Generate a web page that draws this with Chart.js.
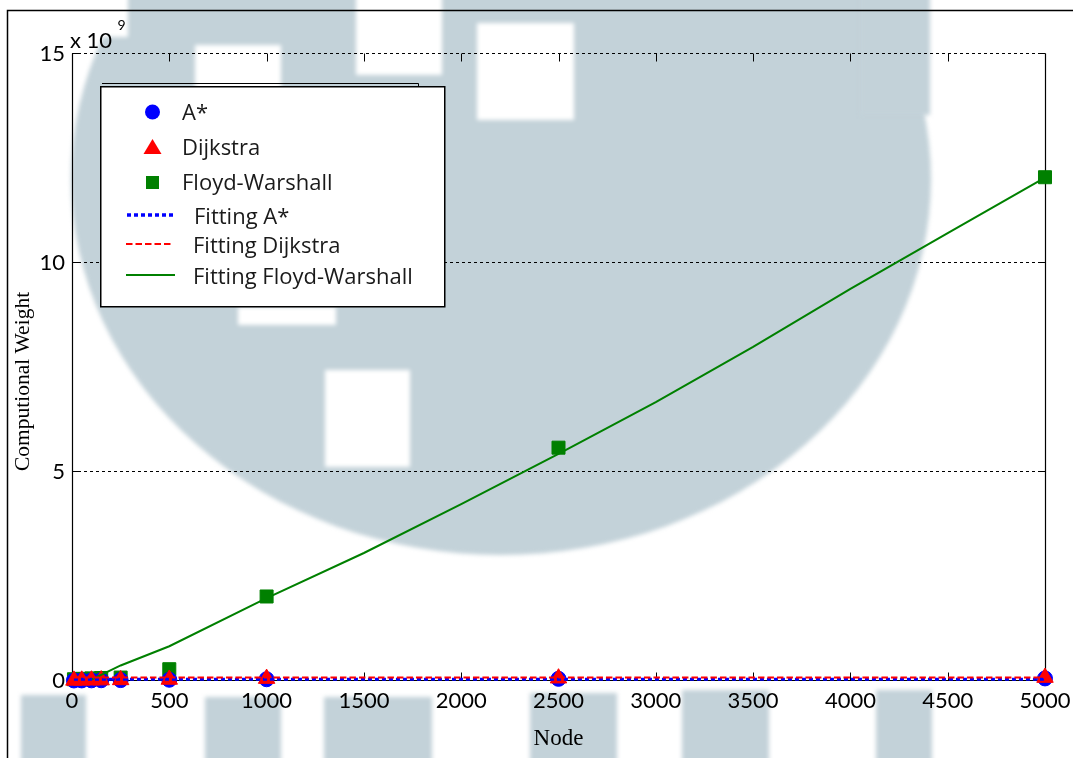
<!DOCTYPE html>
<html>
<head>
<meta charset="utf-8">
<script src="https://cdn.jsdelivr.net/npm/chart.js@4.4.0/dist/chart.umd.min.js"></script>
<style>
  html, body { margin: 0; padding: 0; background: #fff; }
  #wrap { width: 1073px; height: 758px; }
  canvas { display: block; }
</style>
</head>
<body>
<div id="wrap"><canvas id="chart" width="1073" height="758"></canvas></div>
<script>
// Graph sizes (number of nodes)
const nodes = [10, 50, 100, 150, 250, 500, 1000, 2500, 5000];

// Measured computational weight, in units of 10^9
const aStar         = [0.001, 0.002, 0.004, 0.006, 0.010, 0.018, 0.030, 0.040, 0.050];
const dijkstra      = [0.002, 0.004, 0.006, 0.009, 0.014, 0.025, 0.045, 0.055, 0.070];
const floydWarshall = [0.03, 0.04, 0.05, 0.06, 0.07, 0.27, 2.01, 5.57, 12.04];

// Fitted curves, in units of 10^9
const fitFlatNodes     = [10, 5000];
const fitAStar         = [0.03, 0.03];
const fitDijkstra      = [0.07, 0.07];
const fitFwNodes       = [100, 250, 500, 1000, 1500, 2000, 2500, 3000, 3500, 4000, 4500, 5000];
const fitFloydWarshall = [0.02, 0.36, 0.82, 1.97, 3.05, 4.22, 5.42, 6.66, 7.98, 9.37, 10.70, 12.03];

// Axis ticks
const xTicks = [0, 500, 1000, 1500, 2000, 2500, 3000, 3500, 4000, 4500, 5000];
const yTicks = [0, 5, 10, 15];

// Legend entries
const legendLabels = ['A*', 'Dijkstra', 'Floyd-Warshall', 'Fitting A*', 'Fitting Dijkstra', 'Fitting Floyd-Warshall'];

const BLUE = '#0000ff', RED = '#ff0000', GREEN = '#008000';
const pts = (xs, ys) => xs.map((x, i) => ({ x: x, y: ys[i] }));

// Faint logo drawn behind the whole figure
const backdrop = {
  id: 'backdrop',
  beforeDraw(chart) {
    const ctx = chart.ctx;
    ctx.save();
    ctx.fillStyle = '#ffffff';
    ctx.fillRect(0, 0, chart.width, chart.height);
    ctx.filter = 'blur(2px)';
    ctx.fillStyle = '#c3d2d9';
    ctx.beginPath();
    ctx.ellipse(501, 179, 430, 376, 0, 0, Math.PI * 2);
    ctx.fill();
    [[860, -5, 70, 120], [21, 695, 65, 70], [205, 697, 76, 70], [324, 697, 108, 70],
     [530, 693, 87, 70], [682, 690, 87, 75], [876, 690, 56, 75]].forEach(r => ctx.fillRect(r[0], r[1], r[2], r[3]));
    ctx.fillStyle = '#ffffff';
    [[356, -5, 86, 80], [477, 23, 97, 97], [195, 45, 86, 45],
     [238, 307, 98, 18], [325, 370, 85, 97], [0, -5, 128, 42]].forEach(r => ctx.fillRect(r[0], r[1], r[2], r[3]));
    ctx.restore();
  }
};

// Dashed grid, box axes and inward tick marks
const axesBox = {
  id: 'axesBox',
  beforeDatasetsDraw(chart) {
    const ctx = chart.ctx;
    const xs = chart.scales.x, ys = chart.scales.y;
    const { left, right, top, bottom } = chart.chartArea;
    ctx.save();
    ctx.strokeStyle = '#000';
    ctx.lineWidth = 1;
    ctx.setLineDash([3, 3]);
    yTicks.forEach(v => {
      if (v === 0) return;
      const y = Math.floor(ys.getPixelForValue(v)) + 0.5;
      ctx.beginPath(); ctx.moveTo(left, y); ctx.lineTo(right, y); ctx.stroke();
    });
    ctx.setLineDash([]);
    ctx.lineWidth = 1.2;
    ctx.beginPath();
    ctx.moveTo(left + 0.5, top); ctx.lineTo(left + 0.5, bottom);
    ctx.moveTo(right + 0.5, top); ctx.lineTo(right + 0.5, bottom);
    ctx.moveTo(left, bottom); ctx.lineTo(right, bottom);
    ctx.stroke();
    ctx.lineWidth = 1;
    ctx.beginPath();
    xTicks.forEach(v => {
      const x = Math.round(xs.getPixelForValue(v)) + 0.5;
      ctx.moveTo(x, top); ctx.lineTo(x, top + 8);
      ctx.moveTo(x, bottom); ctx.lineTo(x, bottom - 8);
    });
    yTicks.forEach(v => {
      const y = Math.floor(ys.getPixelForValue(v)) + 0.5;
      ctx.moveTo(left, y); ctx.lineTo(left + 6, y);
      ctx.moveTo(right, y); ctx.lineTo(right - 6, y);
    });
    ctx.stroke();
    ctx.restore();
  }
};

// Axis title, exponent label, legend box and outer frame
const overlay = {
  id: 'overlay',
  afterDraw(chart) {
    const ctx = chart.ctx;
    ctx.save();
    // outer frame
    ctx.strokeStyle = '#000';
    ctx.lineWidth = 1.5;
    ctx.beginPath();
    ctx.moveTo(7.5, 758); ctx.lineTo(7.5, 10.5); ctx.lineTo(1073, 10.5);
    ctx.stroke();

    // vertical axis title
    ctx.save();
    ctx.translate(23, 381.5);
    ctx.rotate(-Math.PI / 2);
    ctx.fillStyle = '#000';
    ctx.textAlign = 'center';
    ctx.textBaseline = 'middle';
    ctx.font = '21.5px "Liberation Serif"';
    ctx.fillText('Computional Weight', 0, 0);
    ctx.restore();

    // axis multiplier
    ctx.fillStyle = '#000';
    ctx.textBaseline = 'alphabetic';
    ctx.textAlign = 'left';
    ctx.font = '22px Lato';
    ctx.fillText('x 10', 70, 47.5);
    ctx.font = '14px Lato';
    ctx.fillText('9', 117.5, 29.5);

    // legend
    ctx.lineWidth = 1;
    ctx.beginPath();
    ctx.moveTo(102, 83.5); ctx.lineTo(418.5, 83.5); ctx.lineTo(418.5, 86);
    ctx.stroke();
    ctx.fillStyle = '#ffffff';
    ctx.fillRect(100, 86, 345, 221);
    ctx.lineWidth = 1.5;
    ctx.strokeRect(100.75, 86.75, 344, 220);

    // markers
    ctx.fillStyle = BLUE;
    ctx.beginPath(); ctx.arc(152.5, 112, 7.5, 0, Math.PI * 2); ctx.fill();
    ctx.fillStyle = RED;
    ctx.beginPath(); ctx.moveTo(152.5, 139); ctx.lineTo(161.5, 154); ctx.lineTo(143.5, 154); ctx.closePath(); ctx.fill();
    ctx.fillStyle = GREEN;
    ctx.fillRect(146, 176, 13, 13);

    // line samples
    ctx.lineWidth = 3.5; ctx.strokeStyle = BLUE; ctx.setLineDash([4, 3]);
    ctx.beginPath(); ctx.moveTo(127, 215); ctx.lineTo(173, 215); ctx.stroke();
    ctx.lineWidth = 2; ctx.strokeStyle = RED; ctx.setLineDash([6.5, 3]);
    ctx.beginPath(); ctx.moveTo(126, 244); ctx.lineTo(173, 244); ctx.stroke();
    ctx.setLineDash([]); ctx.strokeStyle = GREEN;
    ctx.beginPath(); ctx.moveTo(126, 275); ctx.lineTo(175, 275); ctx.stroke();

    ctx.fillStyle = '#1a1a1a';
    ctx.font = '22px "Open Sans"';
    const rows = [[182, 120], [182, 155], [182, 190], [194, 224], [193, 253], [193, 284]];
    legendLabels.forEach((t, i) => ctx.fillText(t, rows[i][0], rows[i][1]));
    ctx.restore();
  }
};

new Chart(document.getElementById('chart'), {
  type: 'scatter',
  data: {
    datasets: [
      { label: legendLabels[0], data: pts(nodes, aStar), pointStyle: 'circle', pointRadius: 7.5,
        backgroundColor: BLUE, borderColor: BLUE, showLine: false, clip: false, order: 5 },
      { label: legendLabels[1], data: pts(nodes, dijkstra), pointStyle: 'triangle', pointRadius: 9.5,
        backgroundColor: RED, borderColor: RED, showLine: false, clip: false, order: 4 },
      { label: legendLabels[2], data: pts(nodes, floydWarshall), pointStyle: 'rect', pointRadius: 9.2,
        backgroundColor: GREEN, borderColor: GREEN, showLine: false, clip: false, order: 6 },
      { label: legendLabels[3], data: pts(fitFlatNodes, fitAStar), showLine: true, pointRadius: 0,
        borderColor: BLUE, borderWidth: 3, borderDash: [4, 3], clip: false, order: 2 },
      { label: legendLabels[4], data: pts(fitFlatNodes, fitDijkstra), showLine: true, pointRadius: 0,
        borderColor: RED, borderWidth: 2, borderDash: [6.5, 3], clip: false, order: 1 },
      { label: legendLabels[5], data: pts(fitFwNodes, fitFloydWarshall), showLine: true, pointRadius: 0,
        borderColor: GREEN, borderWidth: 2, tension: 0, clip: false, order: 3 }
    ]
  },
  options: {
    responsive: false,
    animation: false,
    devicePixelRatio: 1,
    layout: { padding: { left: 0, right: 28, top: 53.5, bottom: 0 } },
    plugins: { legend: { display: false }, tooltip: { enabled: false } },
    scales: {
      x: {
        type: 'linear', min: 0, max: 5000,
        afterBuildTicks: s => { s.ticks = xTicks.map(v => ({ value: v })); },
        afterFit: s => { s.height = 77.5; s.paddingLeft = 0; s.paddingRight = 0; },
        grid: { display: false, drawTicks: false },
        border: { display: false },
        ticks: { font: { family: 'Lato', size: 22 }, color: '#000', padding: 7, maxRotation: 0,
                 autoSkip: false, callback: v => String(v) },
        title: { display: true, text: 'Node', color: '#000',
                 font: { family: 'Liberation Serif', size: 23 }, padding: { top: 0, bottom: 5 } }
      },
      y: {
        type: 'linear', min: 0, max: 15,
        afterBuildTicks: s => { s.ticks = yTicks.map(v => ({ value: v })); },
        afterFit: s => { s.width = 72; s.paddingTop = 0; s.paddingBottom = 0; },
        grid: { display: false, drawTicks: false },
        border: { display: false },
        ticks: { font: { family: 'Lato', size: 22 }, color: '#000', padding: 7, callback: v => String(v) },
        title: { display: false }
      }
    }
  },
  plugins: [backdrop, axesBox, overlay]
});
</script>
</body>
</html>
